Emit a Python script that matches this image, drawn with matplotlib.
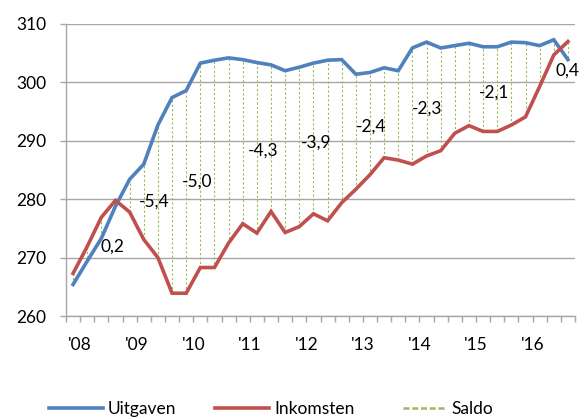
import matplotlib.pyplot as plt
import numpy as np

# kwartaalcijfers 2008 t/m 2016
uitgaven = [265.4, 269.4, 273.3, 278.8, 283.4, 286.0, 292.7, 297.4, 298.6,
            303.3, 303.8, 304.2, 303.9, 303.4, 303.0, 302.0, 302.6, 303.3, 303.8,
            303.9, 301.4, 301.7, 302.5, 302.0, 305.9, 306.9, 305.9, 306.3,
            306.7, 306.1, 306.1, 306.9, 306.8, 306.3, 307.3, 303.9]
inkomsten = [267.3, 271.9, 276.9, 279.8, 277.8, 273.1, 270.0, 263.9, 263.9,
             268.3, 268.3, 272.5, 275.8, 274.2, 277.9, 274.3, 275.3, 277.5, 276.3,
             279.4, 281.7, 284.2, 287.1, 286.7, 286.0, 287.4, 288.3, 291.3,
             292.6, 291.6, 291.6, 292.7, 294.1, 299.3, 304.7, 307.0]
jaren = ["'08", "'09", "'10", "'11", "'12", "'13", "'14", "'15", "'16"]
saldo = ["0,2", "-5,4", "-5,0", "-4,3", "-3,9", "-2,4", "-2,3", "-2,1", "0,4"]

# label positions (category index, y value)
saldo_x = [2.76, 5.74, 8.76, 13.44, 17.23, 21.1, 25.05, 29.76, 34.96]
saldo_y = [271.8, 279.5, 283.0, 288.4, 289.7, 292.4, 295.5, 298.3, 302.1]

plt.rcParams['font.family'] = ['Lato', 'DejaVu Sans']
fs = 12.5

blue = "#4F81BD"
red = "#C0504D"
green = "#9BBB59"
grey = "#A6A6A6"

x = np.arange(len(uitgaven))

fig = plt.figure(figsize=(5.87, 4.19), dpi=100)
ax = fig.add_axes([66 / 587, 1 - 316 / 419, 509 / 587, 292 / 419])

ax.vlines(x, inkomsten, uitgaven, colors=green, linestyles=(0, (2, 2)),
          linewidth=0.8, zorder=2)
ax.plot(x, uitgaven, color=blue, lw=2.6, zorder=3, solid_joinstyle='miter')
ax.plot(x, inkomsten, color=red, lw=2.6, zorder=3, solid_joinstyle='miter')

for lab, lx, ly in zip(saldo, saldo_x, saldo_y):
    ax.text(lx, ly, lab, ha='center', va='center', fontsize=fs, zorder=4)

ax.set_xlim(-0.5, len(x) - 0.5)
ax.set_ylim(260, 310)
ax.set_yticks(np.arange(260, 311, 10))
ax.yaxis.grid(True, color=grey, lw=1)
ax.set_axisbelow(True)

ax.xaxis.remove_overlapping_locs = False
ax.set_xticks(np.arange(-0.5, len(x), 1))
ax.set_xticklabels([])
# jaarlabels staan tussen het eerste en tweede kwartaal
ax.set_xticks(np.arange(0, len(x), 4) + 0.5, minor=True)
ax.set_xticklabels(jaren, minor=True)
ax.tick_params(axis='x', which='major', length=4, color=grey, width=1)
ax.tick_params(axis='x', which='minor', length=0, pad=15, labelsize=fs)
ax.tick_params(axis='y', length=4, color=grey, width=1, labelsize=fs, pad=10)

for s in ['top', 'right']:
    ax.spines[s].set_visible(False)
for s in ['left', 'bottom']:
    ax.spines[s].set_color(grey)
    ax.spines[s].set_linewidth(1)

h1, = ax.plot([], [], color=blue, lw=2.6, label="Uitgaven")
h2, = ax.plot([], [], color=red, lw=2.6, label="Inkomsten")
h3, = ax.plot([], [], color=green, lw=1.8, ls=(0, (2.4, 1.1)), label="Saldo")

legend_opts = dict(loc='center left', frameon=False, fontsize=fs,
                   borderpad=0, borderaxespad=0, handletextpad=0.3)
fig.legend(handles=[h1], bbox_to_anchor=(49 / 587, 1 - 409 / 419),
           handlelength=3.1, **legend_opts)
fig.legend(handles=[h2], bbox_to_anchor=(215 / 587, 1 - 409 / 419),
           handlelength=3.1, **legend_opts)
fig.legend(handles=[h3], bbox_to_anchor=(403 / 587, 1 - 409 / 419),
           handlelength=2.5, **legend_opts)

fig.savefig("out.png", dpi=100)
